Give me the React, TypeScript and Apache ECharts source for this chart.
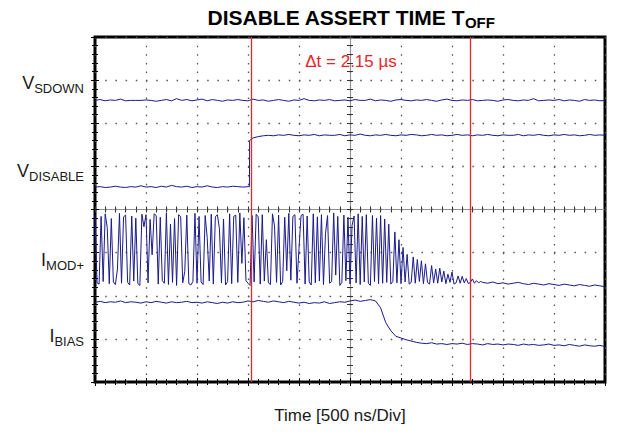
import React, { useEffect, useRef } from "react";
import * as echarts from "echarts";

// ---- axes (time in ns, vertical in screen divisions) ----
const TIME_MAX_NS = 5000;
const TIME_DIV_NS = 500;
const SCREEN_DIVS = 8;

// ---- cursors ----
const CURSOR_T_NS = [1530, 3680];
const DELTA_LABEL = "\u0394t = 2.15 \u00b5s";
const TITLE_MAIN = "DISABLE ASSERT TIME T";
const TITLE_SUB = "OFF";
const X_NAME = "Time [500 ns/Div]";

// ---- trace labels ----
const LABEL_PREFIX = ["V", "V", "I", "I"];
const LABEL_SUB = ["SDOWN", "DISABLE", "MOD+", "BIAS"];
const LABEL_POS = [6.93, 4.89, 2.83, 1.06];

// ---- VSDOWN (t = 0..5000 ns, every 50 ns) ----
const VSDOWN_STEP = 50;
const VSDOWN = [
  6.53, 6.55, 6.52, 6.54, 6.53, 6.56, 6.52, 6.53, 6.53, 6.53,
  6.54, 6.53, 6.51, 6.53, 6.55, 6.52, 6.57, 6.53, 6.55, 6.52,
  6.54, 6.56, 6.52, 6.55, 6.53, 6.51, 6.54, 6.53, 6.55, 6.53,
  6.52, 6.56, 6.53, 6.54, 6.51, 6.53, 6.55, 6.53, 6.51, 6.54,
  6.53, 6.57, 6.53, 6.52, 6.54, 6.53, 6.55, 6.52, 6.53, 6.54,
  6.52, 6.55, 6.53, 6.53, 6.56, 6.52, 6.54, 6.53, 6.51, 6.54,
  6.55, 6.53, 6.52, 6.54, 6.53, 6.55, 6.53, 6.51, 6.54, 6.56,
  6.53, 6.52, 6.54, 6.53, 6.55, 6.52, 6.53, 6.54, 6.53, 6.51,
  6.54, 6.55, 6.53, 6.52, 6.54, 6.53, 6.57, 6.52, 6.53, 6.54,
  6.53, 6.55, 6.52, 6.54, 6.53, 6.51, 6.55, 6.53, 6.54, 6.52,
  6.53,
];

// ---- VDISABLE ----
const VDISABLE_STEP = 50;
const VDISABLE_LOW = [
  4.52, 4.53, 4.51, 4.52, 4.54, 4.52, 4.51, 4.53, 4.52, 4.55,
  4.52, 4.53, 4.51, 4.54, 4.52, 4.56, 4.53, 4.52, 4.54, 4.51,
  4.53, 4.52, 4.55, 4.52, 4.51, 4.53, 4.52, 4.54, 4.53, 4.52,
  4.53,
];
const VDISABLE_EDGE = [
  [1514, 4.53],
  [1516, 5.6],
];
const VDISABLE_HIGH_START = 1550;
const VDISABLE_HIGH = [
  5.66, 5.69, 5.71, 5.72, 5.71, 5.73, 5.72, 5.74, 5.72, 5.71,
  5.73, 5.72, 5.74, 5.71, 5.73, 5.72, 5.72, 5.74, 5.71, 5.73,
  5.72, 5.75, 5.72, 5.71, 5.73, 5.72, 5.74, 5.72, 5.71, 5.73,
  5.72, 5.74, 5.73, 5.71, 5.72, 5.74, 5.72, 5.73, 5.71, 5.72,
  5.74, 5.72, 5.73, 5.71, 5.73, 5.72, 5.74, 5.72, 5.71, 5.73,
  5.72, 5.72, 5.74, 5.71, 5.73, 5.72, 5.74, 5.72, 5.71, 5.73,
  5.72, 5.74, 5.72, 5.73, 5.71, 5.72, 5.74, 5.72, 5.73, 5.72,
];

// ---- IMOD+ burst (t = 0..3780 ns, every 20 ns) ----
const IMOD_BURST_STEP = 20;
const IMOD_BURST = [
  3.88, 2.3, 2.27, 3.84, 2.33, 3.9, 3.58, 2.28, 3.79, 2.32,
  2.26, 2.62, 3.91, 2.29, 3.83, 3.87, 2.31, 2.25, 3.85, 2.34,
  3.8, 2.28, 2.24, 3.89, 3.6, 3.88, 2.3, 3.77, 2.95, 3.9,
  3.86, 2.27, 3.82, 2.35, 2.29, 3.92, 2.26, 3.66, 2.31, 3.79,
  2.24, 3.88, 3.83, 2.3, 2.56, 3.87, 2.28, 2.25, 2.33, 3.91,
  2.29, 3.84, 2.32, 2.26, 3.86, 3.35, 2.34, 3.89, 2.27, 3.83,
  3.88, 3.55, 2.3, 3.78, 2.25, 2.33, 3.9, 2.28, 3.84, 3.87,
  2.31, 3.92, 2.75, 3.81, 2.35, 2.29, 2.24, 3.86, 2.32, 3.89,
  3.83, 2.27, 3.88, 2.34, 3.3, 2.3, 2.26, 3.9, 3.62, 2.31,
  3.87, 2.25, 2.33, 3.82, 2.58, 3.91, 2.36, 3.84, 3.88, 2.29,
  3.1, 3.86, 3.89, 2.27, 3.85, 2.32, 2.25, 3.9, 2.3, 3.83,
  2.34, 3.88, 2.26, 3.45, 3.86, 2.29, 2.33, 3.92, 2.48, 3.84,
  2.24, 2.31, 3.87, 2.35, 3.82, 2.27, 3.63, 3.85, 2.3, 3.9,
  2.26, 3.84, 2.32, 3.88, 2.29, 2.24, 3.86, 2.33, 3.8, 2.28,
  3.86, 2.29, 3.78, 2.31, 3.66, 2.27, 2.33, 3.48, 2.3, 3.3,
  2.28, 3.12, 2.32, 2.96, 2.27, 2.31, 2.9, 2.29, 2.84, 2.33,
  2.81, 2.28, 2.74, 2.31, 2.27, 2.7, 2.3, 2.62, 2.29, 2.64,
  2.32, 2.57, 2.28, 2.5, 2.31, 2.55, 2.27, 2.3, 2.46, 2.29,
  2.45, 2.3, 2.4, 2.28, 2.31, 2.39, 2.29, 2.35, 2.3, 2.33,
];
// ---- IMOD+ settled tail (t = 3800..5000 ns, every 50 ns) ----
const IMOD_TAIL_START = 3800;
const IMOD_TAIL_STEP = 50;
const IMOD_TAIL = [
  2.31, 2.29, 2.32, 2.28, 2.3, 2.27, 2.29, 2.31, 2.28, 2.26,
  2.29, 2.27, 2.25, 2.28, 2.26, 2.24, 2.27, 2.25, 2.23, 2.26,
  2.24, 2.22, 2.25, 2.23, 2.21,
];

// ---- IBIAS (t = 0..5000 ns, every 50 ns) ----
const IBIAS_STEP = 50;
const IBIAS = [
  1.85, 1.87, 1.84, 1.86, 1.85, 1.88, 1.84, 1.86, 1.85, 1.83,
  1.86, 1.84, 1.87, 1.85, 1.83, 1.86, 1.84, 1.85, 1.87, 1.84,
  1.85, 1.83, 1.86, 1.84, 1.82, 1.85, 1.83, 1.86, 1.84, 1.85,
  1.88, 1.86, 1.89, 1.87, 1.85, 1.88, 1.86, 1.84, 1.87, 1.85,
  1.83, 1.85, 1.82, 1.84, 1.83, 1.86, 1.82, 1.84, 1.86, 1.85,
  1.88, 1.9, 1.87, 1.89, 1.91, 1.88, 1.72, 1.38, 1.19, 1.06,
  1.02, 0.98, 0.95, 0.92, 0.9, 0.89, 0.91, 0.88, 0.89, 0.87,
  0.89, 0.88, 0.9, 0.87, 0.89, 0.88, 0.86, 0.89, 0.87, 0.88,
  0.86, 0.88, 0.87, 0.85, 0.88, 0.86, 0.87, 0.85, 0.86, 0.88,
  0.85, 0.86, 0.84, 0.87, 0.85, 0.83, 0.86, 0.84, 0.83, 0.85,
  0.82,
];

const sampled = (vals: number[], start: number, step: number) =>
  vals.map((v, i) => [start + i * step, v]);

const FONT = "'Liberation Sans', Arial, Helvetica, sans-serif";
const TRACE_COLOR = "#1a1a8c";
const RED = "#e8262c";
const TEXT_COLOR = "#1a1a1a";

export default function App() {
  const ref = useRef<HTMLDivElement>(null);

  useEffect(() => {
    if (!ref.current) return;
    const chart = echarts.init(ref.current, undefined, { renderer: "svg" });

    const frameTick = { show: true, inside: true, length: 4, lineStyle: { color: "#000", width: 1 } };
    const frameMinor = { show: true, splitNumber: 5, length: 3, lineStyle: { color: "#000", width: 1 } };
    const hidden = { show: false };
    const baseX = { type: "value", min: 0, max: TIME_MAX_NS, interval: TIME_DIV_NS, axisLabel: hidden, splitLine: hidden };
    const baseY = { type: "value", min: 0, max: SCREEN_DIVS, interval: 1, axisLabel: hidden, splitLine: hidden };
    const centerLine = { show: true, lineStyle: { color: "#888", width: 1.2, type: [1, 1] } };
    const centerTick = (inside: boolean) => ({ show: true, inside, length: 3, lineStyle: { color: "#333", width: 1 } });
    const centerMinor = { show: true, splitNumber: 5, length: 3, lineStyle: { color: "#333", width: 1 } };

    const lineSeries = (name: string, data: number[][], extra: any = {}) => ({
      type: "line",
      name,
      data,
      xAxisIndex: 0,
      yAxisIndex: 0,
      showSymbol: false,
      symbol: "none",
      silent: true,
      lineStyle: { color: TRACE_COLOR, width: 1 },
      ...extra,
    });

    const vdisable = [
      ...sampled(VDISABLE_LOW, 0, VDISABLE_STEP),
      ...VDISABLE_EDGE,
      ...sampled(VDISABLE_HIGH, VDISABLE_HIGH_START, VDISABLE_STEP),
    ];
    const imod = [
      ...sampled(IMOD_BURST, 0, IMOD_BURST_STEP),
      ...sampled(IMOD_TAIL, IMOD_TAIL_START, IMOD_TAIL_STEP),
    ];

    chart.setOption({
      animation: false,
      backgroundColor: "#ffffff",
      title: [
        {
          text: `{m|${TITLE_MAIN}}{s|${TITLE_SUB}}`,
          left: 351,
          top: 5,
          padding: 0,
          textAlign: "center",
          textStyle: {
            rich: {
              m: { fontSize: 21, fontWeight: "bold", fontFamily: FONT, color: "#000" },
              s: { fontSize: 15, fontWeight: "bold", fontFamily: FONT, color: "#000", padding: [10, 0, 0, 0] },
            },
          },
        },
        {
          text: DELTA_LABEL,
          left: 351,
          top: 53,
          padding: 0,
          textAlign: "center",
          textStyle: { fontSize: 17, fontWeight: "normal", fontFamily: FONT, color: RED },
        },
      ],
      grid: {
        left: 95,
        top: 37,
        width: 510,
        height: 345,
        show: true,
        borderColor: "#000",
        borderWidth: 3,
        backgroundColor: "transparent",
      },
      xAxis: [
        {
          ...baseX,
          position: "bottom",
          axisLine: hidden,
          axisTick: frameTick,
          minorTick: frameMinor,
          splitLine: { show: true, lineStyle: { color: "#555", width: 1.3, type: [1.5, 7.125] } },
          name: X_NAME,
          nameLocation: "middle",
          nameGap: 25,
          nameTextStyle: { fontSize: 17, fontFamily: FONT, color: TEXT_COLOR, padding: [0, 20, 0, 0] },
        },
        { ...baseX, position: "top", axisLine: hidden, axisTick: frameTick, minorTick: frameMinor },
        { ...baseX, position: "bottom", offset: -172.5, axisLine: centerLine, axisTick: centerTick(true), minorTick: centerMinor },
        { ...baseX, position: "bottom", offset: -172.5, axisLine: hidden, axisTick: centerTick(false), minorTick: centerMinor },
      ],
      yAxis: [
        {
          ...baseY,
          position: "left",
          axisLine: hidden,
          axisTick: frameTick,
          minorTick: frameMinor,
          splitLine: { show: true, lineStyle: { color: "#555", width: 1.3, type: [1.5, 8.7] } },
          axisLabel: {
            show: true,
            customValues: LABEL_POS,
            margin: 11,
            formatter: (v: number) => {
              let idx = 0;
              LABEL_POS.forEach((p, i) => {
                if (Math.abs(p - v) < Math.abs(LABEL_POS[idx] - v)) idx = i;
              });
              return `{m|${LABEL_PREFIX[idx]}}{s|${LABEL_SUB[idx]}}`;
            },
            rich: {
              m: { fontSize: 18, fontFamily: FONT, color: TEXT_COLOR },
              s: { fontSize: 13, fontFamily: FONT, color: TEXT_COLOR, padding: [11, 0, 0, 0] },
            },
          },
        },
        { ...baseY, position: "right", axisLine: hidden, axisTick: frameTick, minorTick: frameMinor },
        { ...baseY, position: "left", offset: -255, axisLine: centerLine, axisTick: centerTick(true), minorTick: centerMinor },
        { ...baseY, position: "left", offset: -255, axisLine: hidden, axisTick: centerTick(false), minorTick: centerMinor },
      ],
      series: [
        lineSeries("VSDOWN", sampled(VSDOWN, 0, VSDOWN_STEP)),
        lineSeries("VDISABLE", vdisable),
        lineSeries("IMOD+", imod),
        lineSeries("IBIAS", sampled(IBIAS, 0, IBIAS_STEP), {
          markLine: {
            silent: true,
            symbol: "none",
            label: { show: false },
            lineStyle: { color: RED, width: 1.3, type: "solid" },
            data: CURSOR_T_NS.map((t) => ({ xAxis: t })),
          },
        }),
      ],
    });

    return () => chart.dispose();
  }, []);

  return (
    <div
      ref={ref}
      style={{ position: "fixed", left: 0, top: 0, width: 636, height: 437 }}
    />
  );
}
